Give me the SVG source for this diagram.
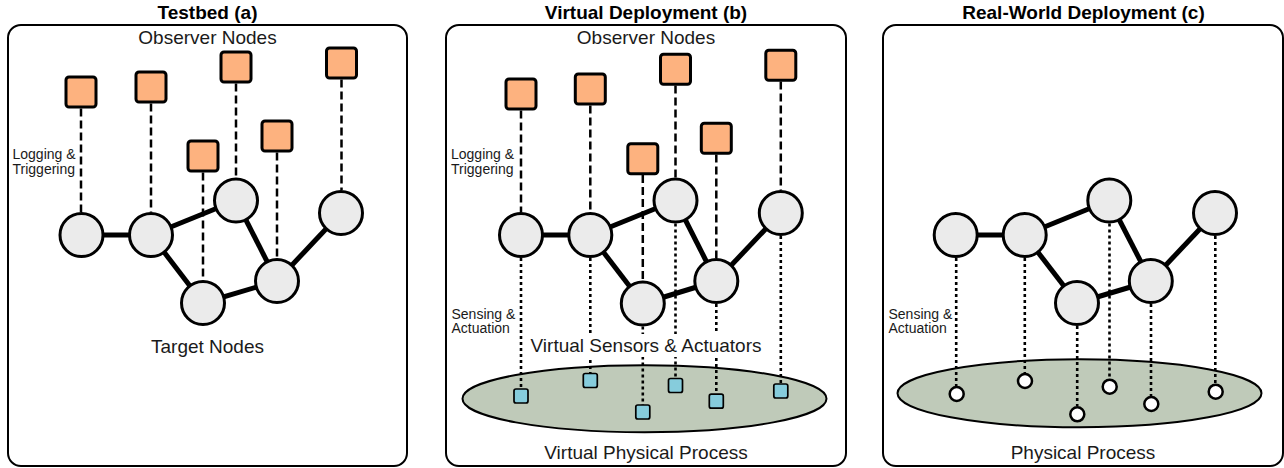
<svg xmlns="http://www.w3.org/2000/svg" width="1284" height="468" viewBox="0 0 1284 468">
<style>
.box{fill:#fff;stroke:#000;stroke-width:2}
.title{font-family:"Liberation Sans",Arial,sans-serif;font-weight:bold;font-size:19px;fill:#000;text-anchor:middle}
.lbl{font-family:"Liberation Sans",Arial,sans-serif;font-size:19px;fill:#1a1a1a;text-anchor:middle}
.sm{font-family:"Liberation Sans",Arial,sans-serif;font-size:14px;fill:#1a1a1a}
.obs{fill:#FDB27F;stroke:#000;stroke-width:3}
.tgt{fill:#EBEBEB;stroke:#000;stroke-width:3}
.edge{stroke:#000;stroke-width:5;fill:none}
.dash{stroke:#000;stroke-width:2.5;stroke-dasharray:8 4;fill:none}
.dot{stroke:#000;stroke-width:2.6;stroke-dasharray:3 3;fill:none}
.proc{fill:#BFCAB9;stroke:#000;stroke-width:2}
.vs{fill:#86CCDC;stroke:#000;stroke-width:1.7}
.ps{fill:#fff;stroke:#000;stroke-width:2.5}
</style>

<!-- Titles -->
<text class="title" x="207.5" y="18.5">Testbed (a)</text>
<text class="title" x="646" y="18.5">Virtual Deployment (b)</text>
<text class="title" x="1083.5" y="18.5">Real-World Deployment (c)</text>

<!-- Panel frames -->
<g id="panel-a"><rect class="box" x="8" y="25" width="399" height="441" rx="13"/></g>
<g id="panel-b"><rect class="box" x="446" y="25" width="400" height="441" rx="13"/></g>
<g id="panel-c"><rect class="box" x="883" y="25" width="400" height="441" rx="13"/></g>

<!-- Processes -->
<g id="process-b"><ellipse class="proc" cx="644.5" cy="398.7" rx="182" ry="33.5"/></g>
<g id="process-c"><ellipse class="proc" cx="1079.5" cy="393.3" rx="182" ry="34"/></g>

<!-- Connectors -->
<g id="connectors">
  <!-- panel a: logging -->
  <line class="dash" x1="81" y1="108.5" x2="81" y2="212"/>
  <line class="dash" x1="151" y1="103.5" x2="151" y2="212"/>
  <line class="dash" x1="236" y1="83.5" x2="236" y2="177.5"/>
  <line class="dash" x1="341.5" y1="79.5" x2="341.5" y2="190"/>
  <line class="dash" x1="203" y1="172.5" x2="203" y2="280"/>
  <line class="dash" x1="277" y1="152.5" x2="277" y2="258"/>
  <!-- panel a: network -->
  <line class="edge" x1="81.5" y1="235" x2="151" y2="235"/>
  <line class="edge" x1="151" y1="235" x2="236" y2="200.5"/>
  <line class="edge" x1="151" y1="235" x2="203" y2="303"/>
  <line class="edge" x1="236" y1="200.5" x2="277" y2="281"/>
  <line class="edge" x1="203" y1="303" x2="277" y2="281"/>
  <line class="edge" x1="277" y1="281" x2="341" y2="213"/>

  <!-- panel b: logging -->
  <line class="dash" x1="521" y1="110.5" x2="521" y2="212"/>
  <line class="dash" x1="590.3" y1="105.5" x2="590.3" y2="212"/>
  <line class="dash" x1="675.5" y1="85.5" x2="675.5" y2="177.5"/>
  <line class="dash" x1="780.8" y1="81.5" x2="780.8" y2="190"/>
  <line class="dash" x1="642.8" y1="175" x2="642.8" y2="280.5"/>
  <line class="dash" x1="716.3" y1="154.5" x2="716.3" y2="258"/>
  <!-- panel b: sensing -->
  <line class="dot" x1="521" y1="258" x2="521" y2="389"/>
  <line class="dot" x1="590.3" y1="258" x2="590.3" y2="373.5"/>
  <line class="dot" x1="642.8" y1="326.5" x2="642.8" y2="405"/>
  <line class="dot" x1="675.5" y1="223.5" x2="675.5" y2="378.5"/>
  <line class="dot" x1="716.3" y1="304" x2="716.3" y2="394"/>
  <line class="dot" x1="780.8" y1="236" x2="780.8" y2="384"/>
  <!-- panel b: network -->
  <line class="edge" x1="521" y1="235" x2="590.3" y2="235"/>
  <line class="edge" x1="590.3" y1="235" x2="675.5" y2="200.5"/>
  <line class="edge" x1="590.3" y1="235" x2="642.8" y2="303.5"/>
  <line class="edge" x1="675.5" y1="200.5" x2="716.3" y2="281"/>
  <line class="edge" x1="642.8" y1="303.5" x2="716.3" y2="281"/>
  <line class="edge" x1="716.3" y1="281" x2="780.8" y2="213"/>

  <!-- panel c: sensing -->
  <line class="dot" x1="956.2" y1="258" x2="956.2" y2="386"/>
  <line class="dot" x1="1024.8" y1="258" x2="1024.8" y2="373"/>
  <line class="dot" x1="1077.2" y1="326" x2="1077.2" y2="406"/>
  <line class="dot" x1="1109.5" y1="223.5" x2="1109.5" y2="378.5"/>
  <line class="dot" x1="1151" y1="304" x2="1151" y2="396"/>
  <line class="dot" x1="1215.3" y1="236" x2="1215.3" y2="383.5"/>
  <!-- panel c: network -->
  <line class="edge" x1="955.7" y1="235" x2="1024.7" y2="235"/>
  <line class="edge" x1="1024.7" y1="235" x2="1109.3" y2="200.5"/>
  <line class="edge" x1="1024.7" y1="235" x2="1077" y2="303"/>
  <line class="edge" x1="1109.3" y1="200.5" x2="1150.8" y2="281"/>
  <line class="edge" x1="1077" y1="303" x2="1150.8" y2="281"/>
  <line class="edge" x1="1150.8" y1="281" x2="1215" y2="213"/>
</g>

<!-- Panel a nodes -->
<g id="a-observers">
  <rect class="obs" x="66" y="77" width="30" height="30" rx="3"/>
  <rect class="obs" x="136" y="72" width="30" height="30" rx="3"/>
  <rect class="obs" x="221" y="52" width="30" height="30" rx="3"/>
  <rect class="obs" x="326.5" y="48" width="30" height="30" rx="3"/>
  <rect class="obs" x="188" y="141" width="30" height="30" rx="3"/>
  <rect class="obs" x="262" y="121" width="30" height="30" rx="3"/>
</g>
<g id="a-targets">
  <circle class="tgt" cx="81.5" cy="235" r="21.5"/>
  <circle class="tgt" cx="151" cy="235" r="21.5"/>
  <circle class="tgt" cx="236" cy="200.5" r="21.5"/>
  <circle class="tgt" cx="341" cy="213" r="21.5"/>
  <circle class="tgt" cx="203" cy="303" r="21.5"/>
  <circle class="tgt" cx="277" cy="281" r="21.5"/>
</g>
<g id="a-labels">
  <text class="lbl" x="207.5" y="44">Observer Nodes</text>
  <text class="lbl" x="207.5" y="353">Target Nodes</text>
  <text class="sm" x="12.5" y="159">Logging &amp;</text>
  <text class="sm" x="12.5" y="174">Triggering</text>
</g>

<!-- Panel b nodes -->
<g id="b-observers">
  <rect class="obs" x="506" y="79" width="30" height="30" rx="3"/>
  <rect class="obs" x="575.3" y="74" width="30" height="30" rx="3"/>
  <rect class="obs" x="660.5" y="54.3" width="30" height="30" rx="3"/>
  <rect class="obs" x="765.8" y="50.3" width="30" height="30" rx="3"/>
  <rect class="obs" x="627.8" y="143.7" width="30" height="30" rx="3"/>
  <rect class="obs" x="701.3" y="123.3" width="30" height="30" rx="3"/>
</g>
<g id="b-targets">
  <circle class="tgt" cx="521" cy="235" r="21.5"/>
  <circle class="tgt" cx="590.3" cy="235" r="21.5"/>
  <circle class="tgt" cx="675.5" cy="200.5" r="21.5"/>
  <circle class="tgt" cx="780.8" cy="213" r="21.5"/>
  <circle class="tgt" cx="642.8" cy="303.5" r="21.5"/>
  <circle class="tgt" cx="716.3" cy="281" r="21.5"/>
</g>
<g id="b-virtual-sensors">
  <rect class="vs" x="514" y="389" width="14" height="14" rx="2"/>
  <rect class="vs" x="583.3" y="373.5" width="14" height="14" rx="2"/>
  <rect class="vs" x="635.8" y="405" width="14" height="14" rx="2"/>
  <rect class="vs" x="668.5" y="378.5" width="14" height="14" rx="2"/>
  <rect class="vs" x="709.3" y="394.2" width="14" height="14" rx="2"/>
  <rect class="vs" x="773.8" y="384" width="14" height="14" rx="2"/>
</g>
<g id="b-labels">
  <text class="lbl" x="646" y="44">Observer Nodes</text>
  <rect x="531" y="334" width="231" height="23" fill="#fff"/>
  <text class="lbl" x="646" y="352">Virtual Sensors &amp; Actuators</text>
  <text class="lbl" x="646" y="458.5">Virtual Physical Process</text>
  <text class="sm" x="451" y="159">Logging &amp;</text>
  <text class="sm" x="451" y="174">Triggering</text>
  <text class="sm" x="451.5" y="318.5">Sensing &amp;</text>
  <text class="sm" x="451.5" y="332.5">Actuation</text>
</g>

<!-- Panel c nodes -->
<g id="c-targets">
  <circle class="tgt" cx="955.7" cy="235" r="21.5"/>
  <circle class="tgt" cx="1024.7" cy="235" r="21.5"/>
  <circle class="tgt" cx="1109.3" cy="200.5" r="21.5"/>
  <circle class="tgt" cx="1215" cy="213" r="21.5"/>
  <circle class="tgt" cx="1077" cy="303" r="21.5"/>
  <circle class="tgt" cx="1150.8" cy="281" r="21.5"/>
</g>
<g id="c-physical-sensors">
  <circle class="ps" cx="956.7" cy="394" r="7"/>
  <circle class="ps" cx="1025" cy="381" r="7"/>
  <circle class="ps" cx="1077.3" cy="414.3" r="7"/>
  <circle class="ps" cx="1109.7" cy="386.7" r="7"/>
  <circle class="ps" cx="1151.3" cy="404" r="7"/>
  <circle class="ps" cx="1215.7" cy="391.7" r="7"/>
</g>
<g id="c-labels">
  <text class="lbl" x="1083" y="458.5">Physical Process</text>
  <text class="sm" x="888.5" y="318.5">Sensing &amp;</text>
  <text class="sm" x="888.5" y="332.5">Actuation</text>
</g>
</svg>
